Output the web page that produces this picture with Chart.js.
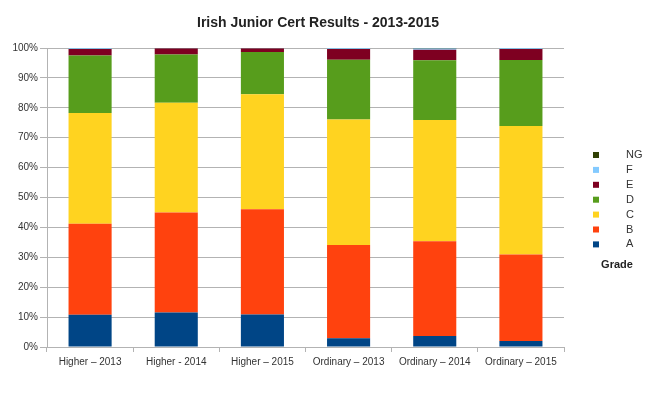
<!DOCTYPE html>
<html>
<head>
<meta charset="utf-8">
<script src="https://cdn.jsdelivr.net/npm/chart.js@4"></script>
<style>
  html, body { margin: 0; padding: 0; background: #fff; }
  #wrap { width: 650px; height: 396px; }
</style>
</head>
<body>
<div id="wrap"><canvas id="chart" width="650" height="396"></canvas></div>
<script>
// data (percent of candidates)
var categories = ['Higher \u2013 2013', 'Higher - 2014', 'Higher \u2013 2015',
                  'Ordinary \u2013 2013', 'Ordinary \u2013 2014', 'Ordinary \u2013 2015'];
var gradeA  = [10.8, 11.5, 10.9, 2.9, 3.7, 2.0];
var gradeB  = [30.4, 33.5, 35.2, 31.2, 31.7, 28.9];
var gradeC  = [37.1, 36.7, 38.4, 42.0, 40.5, 43.0];
var gradeD  = [19.2, 16.1, 14.2, 20.0, 20.0, 22.1];
var gradeE  = [2.2, 2.0, 1.1, 3.6, 3.5, 3.7];
var gradeF  = [0.2, 0.1, 0.1, 0.2, 0.4, 0.2];
var gradeNG = [0.1, 0.1, 0.1, 0.1, 0.2, 0.1];
var yTicks = [0, 10, 20, 30, 40, 50, 60, 70, 80, 90, 100];

var FONT = "'Liberation Sans', Arial, sans-serif";
var gridColor = '#b3b3b3';

// title and grade legend, drawn after the chart
var extras = {
    id: 'extras',
    afterDraw: function (chart) {
        var ctx = chart.ctx;
        ctx.save();
        ctx.fillStyle = '#222';
        ctx.font = 'bold 14px ' + FONT;
        ctx.textAlign = 'center';
        ctx.textBaseline = 'middle';
        ctx.fillText('Irish Junior Cert Results - 2013-2015', 318, 23);

        var sets = chart.data.datasets.slice().reverse();
        ctx.font = '11px ' + FONT;
        ctx.textAlign = 'left';
        for (var i = 0; i < sets.length; i++) {
            var y = 155 + i * 14.9;
            ctx.fillStyle = sets[i].backgroundColor;
            ctx.fillRect(593, y - 3, 6, 6);
            ctx.fillStyle = '#333';
            ctx.fillText(sets[i].label, 626, y);
        }
        ctx.font = 'bold 11px ' + FONT;
        ctx.textAlign = 'center';
        ctx.fillStyle = '#222';
        ctx.fillText('Grade', 617, 265);
        ctx.restore();
    }
};

new Chart(document.getElementById('chart'), {
    type: 'bar',
    data: {
        labels: categories,
        datasets: [
            { label: 'A',  data: gradeA,  backgroundColor: '#004586' },
            { label: 'B',  data: gradeB,  backgroundColor: '#ff420e' },
            { label: 'C',  data: gradeC,  backgroundColor: '#ffd320' },
            { label: 'D',  data: gradeD,  backgroundColor: '#579d1c' },
            { label: 'E',  data: gradeE,  backgroundColor: '#7e0021' },
            { label: 'F',  data: gradeF,  backgroundColor: '#83caff' },
            { label: 'NG', data: gradeNG, backgroundColor: '#314004' }
        ]
    },
    options: {
        responsive: false,
        animation: false,
        layout: { padding: { left: 0, right: 86, top: 48, bottom: 0 } },
        datasets: {
            bar: { barPercentage: 0.5, categoryPercentage: 1.0 }
        },
        scales: {
            x: {
                stacked: true,
                afterFit: function (scale) { scale.height = 49; },
                grid: {
                    offset: true,
                    drawOnChartArea: true,
                    color: function (c) { return c.index === categories.length ? gridColor : 'rgba(0,0,0,0)'; },
                    tickColor: gridColor,
                    tickLength: 5
                },
                border: { color: gridColor },
                ticks: {
                    color: '#333',
                    font: { family: FONT, size: 10 },
                    padding: 4,
                    maxRotation: 0,
                    autoSkip: false
                }
            },
            y: {
                stacked: true,
                min: 0,
                max: 100,
                afterFit: function (scale) { scale.width = 47; },
                afterBuildTicks: function (scale) {
                    scale.ticks = yTicks.map(function (v) { return { value: v }; });
                },
                grid: { color: gridColor, tickLength: 7 },
                border: { color: gridColor },
                ticks: {
                    color: '#333',
                    font: { family: FONT, size: 10 },
                    padding: 2,
                    callback: function (v) { return v + '%'; }
                }
            }
        },
        plugins: {
            legend: { display: false },
            title: { display: false },
            tooltip: { enabled: false }
        }
    },
    plugins: [extras]
});
</script>
</body>
</html>
